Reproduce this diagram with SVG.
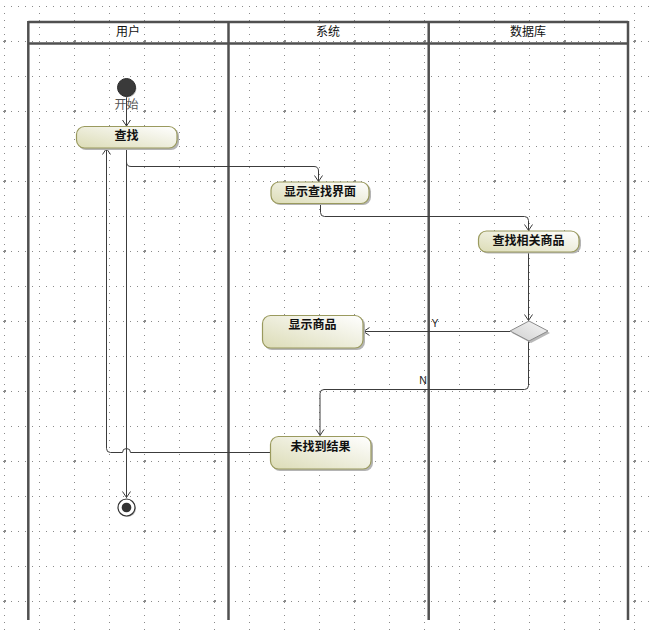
<svg xmlns="http://www.w3.org/2000/svg" width="652" height="633" viewBox="0 0 652 633">
<style>
.lane{stroke:#505050;stroke-width:2.5;fill:none}
.hdr{font-family:"Noto Sans CJK SC","Liberation Sans",sans-serif;font-size:12px;fill:#111;text-anchor:middle}
.lbl{font-family:"Noto Sans CJK SC","Liberation Sans",sans-serif;font-size:12px;font-weight:bold;fill:#111;text-anchor:middle}
.gd{font-family:"Liberation Sans",sans-serif;font-size:10.5px;fill:#222;text-anchor:middle}
.node{fill:url(#ng);stroke:#9a9a5e;stroke-width:1.2}
.shadow{fill:#b4b4b4}
.conn{fill:none;stroke:#3c3c3c;stroke-width:1}
</style>
<defs>
<pattern id="grid" x="4" y="6" width="70" height="70" patternUnits="userSpaceOnUse">
<g fill="#8a8a8a" shape-rendering="crispEdges">
<rect x="0" y="0" width="1" height="1"/><rect x="0" y="7" width="1" height="1"/><rect x="0" y="14" width="1" height="1"/><rect x="0" y="21" width="1" height="1"/><rect x="0" y="28" width="1" height="1"/><rect x="0" y="35" width="1" height="1"/><rect x="0" y="42" width="1" height="1"/><rect x="0" y="49" width="1" height="1"/><rect x="0" y="56" width="1" height="1"/><rect x="0" y="63" width="1" height="1"/>
<rect x="35" y="0" width="1" height="1"/><rect x="35" y="7" width="1" height="1"/><rect x="35" y="14" width="1" height="1"/><rect x="35" y="21" width="1" height="1"/><rect x="35" y="28" width="1" height="1"/><rect x="35" y="35" width="1" height="1"/><rect x="35" y="42" width="1" height="1"/><rect x="35" y="49" width="1" height="1"/><rect x="35" y="56" width="1" height="1"/><rect x="35" y="63" width="1" height="1"/>
<rect x="7" y="0" width="1" height="1"/><rect x="14" y="0" width="1" height="1"/><rect x="21" y="0" width="1" height="1"/><rect x="28" y="0" width="1" height="1"/><rect x="42" y="0" width="1" height="1"/><rect x="49" y="0" width="1" height="1"/><rect x="56" y="0" width="1" height="1"/><rect x="63" y="0" width="1" height="1"/>
<rect x="7" y="35" width="1" height="1"/><rect x="14" y="35" width="1" height="1"/><rect x="21" y="35" width="1" height="1"/><rect x="28" y="35" width="1" height="1"/><rect x="42" y="35" width="1" height="1"/><rect x="49" y="35" width="1" height="1"/><rect x="56" y="35" width="1" height="1"/><rect x="63" y="35" width="1" height="1"/>
<rect x="0" y="34" width="2" height="1"/><rect x="0" y="36" width="1" height="1"/><rect x="1" y="35" width="1" height="1"/><rect x="69" y="35" width="1" height="1"/><rect x="0" y="34" width="1" height="1"/>
</g>
</pattern>
<linearGradient id="ng" x1="0" y1="1" x2="1" y2="0">
<stop offset="0" stop-color="#dcdcb6"/>
<stop offset="0.55" stop-color="#efefdf"/>
<stop offset="1" stop-color="#ffffff"/>
</linearGradient>
<linearGradient id="dg" x1="0" y1="1" x2="1" y2="0">
<stop offset="0" stop-color="#cfcfcf"/>
<stop offset="1" stop-color="#f6f6f6"/>
</linearGradient>
<marker id="arr" viewBox="-7 -5 8 10" refX="0" refY="0" markerWidth="8" markerHeight="10" markerUnits="userSpaceOnUse" orient="auto">
<path d="M-6,-4 L0,0 L-6,4" fill="none" stroke="#3c3c3c" stroke-width="1"/>
</marker>
</defs>
<rect width="652" height="633" fill="#ffffff"/>
<rect width="652" height="633" fill="url(#grid)"/>

<g id="lanes">
<line class="lane" x1="28.3" y1="22" x2="628" y2="22" stroke-width="2"/>
<line class="lane" x1="28.3" y1="43.5" x2="628" y2="43.5" stroke-width="2"/>
<line class="lane" x1="28.3" y1="21" x2="28.3" y2="620"/>
<line class="lane" x1="228.5" y1="21" x2="228.5" y2="620"/>
<line class="lane" x1="428.7" y1="21" x2="428.7" y2="620"/>
<line class="lane" x1="628" y1="21" x2="628" y2="620"/>
<text class="hdr" x="128" y="36">用户</text>
<text class="hdr" x="328" y="36">系统</text>
<text class="hdr" x="528" y="36">数据库</text>
</g>

<g id="connectors">
<path class="conn" d="M126.5,97 V126" marker-end="url(#arr)"/>
<path class="conn" d="M126.5,148 V162 Q126.5,166.5 131,166.5 H314 Q318.5,166.5 318.5,171 V181.5" marker-end="url(#arr)"/>
<path class="conn" d="M320.5,203.5 V212.5 Q320.5,216.5 324.5,216.5 H524.5 Q528.5,216.5 528.5,220.5 V230.5" marker-end="url(#arr)"/>
<path class="conn" d="M528.5,252 V320.5" marker-end="url(#arr)"/>
<path class="conn" d="M510,331.5 H363.5" marker-end="url(#arr)"/>
<path class="conn" d="M528.5,341 V385.5 Q528.5,389.5 524.5,389.5 H324 Q320,389.5 320,393.5 V435.5" marker-end="url(#arr)"/>
<path class="conn" d="M270,452.5 H130.5 A4,4 0 0 0 122.5,452.5 H110.5 Q106.5,452.5 106.5,448.5 V148.5" marker-end="url(#arr)"/>
<path class="conn" d="M126.5,148 V497.5" marker-end="url(#arr)"/>
<text class="gd" x="435" y="327">Y</text>
<text class="gd" x="423" y="384">N</text>
</g>

<g id="start">
<circle cx="127.5" cy="88.5" r="9" fill="#bdbdbd"/>
<circle cx="126.5" cy="87.5" r="9" fill="#3a3a3a" stroke="#2a2a2a" stroke-width="1"/>
<text x="126.5" y="109" font-family="'Noto Sans CJK SC',sans-serif" font-size="12" fill="#555" text-anchor="middle">开始</text>
</g>

<g id="n_search">
<rect class="shadow" x="78" y="128" width="101" height="22" rx="8"/>
<rect class="node" x="76.5" y="126.5" width="100.5" height="21.5" rx="8"/>
<text class="lbl" x="126.5" y="140">查找</text>
</g>

<g id="n_show_ui">
<rect class="shadow" x="272.5" y="183.5" width="98.5" height="21.5" rx="8"/>
<rect class="node" x="271" y="182" width="98" height="21.5" rx="8"/>
<text class="lbl" x="320" y="196">显示查找界面</text>
</g>

<g id="n_query">
<rect class="shadow" x="480" y="232.5" width="101" height="21" rx="8"/>
<rect class="node" x="478.5" y="231" width="100.5" height="21" rx="8"/>
<text class="lbl" x="528.5" y="244.5">查找相关商品</text>
</g>

<g id="decision">
<polygon points="531,323 550,333 531,343 512,333" fill="#b8b8b8"/>
<polygon points="529,321 548,331 529,341 510,331" fill="url(#dg)" stroke="#8a8a8a" stroke-width="1"/>
</g>

<g id="n_show_goods">
<rect class="shadow" x="264" y="317" width="101" height="33" rx="8"/>
<rect class="node" x="262.5" y="315.5" width="100.5" height="32.5" rx="8"/>
<text class="lbl" x="312.5" y="329">显示商品</text>
</g>

<g id="n_not_found">
<rect class="shadow" x="272" y="438" width="101" height="33" rx="8"/>
<rect class="node" x="270.5" y="436.5" width="100.5" height="32.5" rx="8"/>
<text class="lbl" x="320.5" y="450.5">未找到结果</text>
</g>

<g id="end">
<circle cx="127.5" cy="508.5" r="8.5" fill="#bdbdbd"/>
<circle cx="126.5" cy="507.5" r="8.5" fill="#ffffff" stroke="#333" stroke-width="1.2"/>
<circle cx="126.5" cy="507.5" r="4.8" fill="#333"/>
</g>
</svg>
